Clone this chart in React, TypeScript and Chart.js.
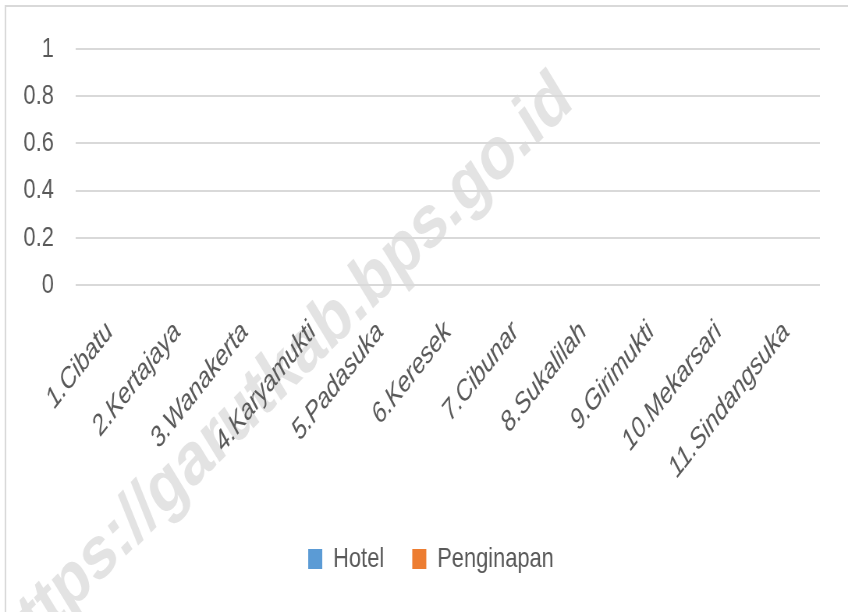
import React, { useEffect, useRef } from "react";
import { Chart, registerables } from "chart.js";
Chart.register(...registerables);

const categories = [
  "1.Cibatu",
  "2.Kertajaya",
  "3.Wanakerta",
  "4.Karyamukti",
  "5.Padasuka",
  "6.Keresek",
  "7.Cibunar",
  "8.Sukalilah",
  "9.Girimukti",
  "10.Mekarsari",
  "11.Sindangsuka",
];
const hotelValues = [0, 0, 0, 0, 0, 0, 0, 0, 0, 0, 0];
const penginapanValues = [0, 0, 0, 0, 0, 0, 0, 0, 0, 0, 0];
const yMin = 0;
const yMax = 1;
const yStep = 0.2;
const watermarkText = "https://garutkab.bps.go.id";

// The reference picture is horizontally compressed (narrow, tall glyphs);
// the chart is drawn on a wider canvas and shown squeezed to 848px.
const VIEW_W = 848;
const VIEW_H = 612;
const SQUEEZE = 0.78;
const CANVAS_W = Math.round(VIEW_W / SQUEEZE);

const FONT = "'Liberation Sans', Arial, sans-serif";

const backgroundPlugin = {
  id: "bgWatermark",
  beforeDraw(chart: any) {
    const ctx = chart.ctx as CanvasRenderingContext2D;
    ctx.save();
    ctx.fillStyle = "#ffffff";
    ctx.fillRect(0, 0, chart.width, chart.height);
    ctx.strokeStyle = "#d9d9d9";
    ctx.lineWidth = 2;
    ctx.strokeRect(7, 6, chart.width + 20, chart.height + 20);
    ctx.translate(737, 106);
    ctx.rotate((-38 * Math.PI) / 180);
    ctx.font = "bold 75px 'Liberation Sans', Arial, sans-serif";
    ctx.fillStyle = "#e3e3e3";
    ctx.textAlign = "right";
    ctx.textBaseline = "alphabetic";
    ctx.fillText(watermarkText, 0, 0);
    ctx.restore();
  },
};

export default function App() {
  const ref = useRef<HTMLCanvasElement | null>(null);
  useEffect(() => {
    document.body.style.margin = "0";
    if (!ref.current) return;
    const chart = new Chart(ref.current, {
      type: "bar",
      data: {
        labels: categories,
        datasets: [
          { label: "Hotel", data: hotelValues, backgroundColor: "#5b9bd5", borderWidth: 0 },
          { label: "Penginapan", data: penginapanValues, backgroundColor: "#ed7d31", borderWidth: 0 },
        ],
      },
      options: {
        animation: false,
        responsive: false,
        devicePixelRatio: 1,
        layout: { padding: { top: 49, left: 18, right: 0, bottom: 29 } },
        scales: {
          x: {
            grid: { display: false, drawTicks: false },
            border: { display: false },
            ticks: {
              color: "#595959",
              font: { family: FONT, size: 29, style: "italic" },
              minRotation: 45,
              maxRotation: 45,
              padding: 30,
              autoSkip: false,
            },
            afterFit(scale: any) {
              scale.height = 224;
            },
          },
          y: {
            min: yMin,
            max: yMax,
            grid: { color: "#d9d9d9", lineWidth: 2, drawTicks: false },
            border: { display: false },
            ticks: {
              stepSize: yStep,
              color: "#595959",
              padding: 28,
              font: { family: FONT, size: 28 },
              callback: (v: any) => String(Number(Number(v).toFixed(1))),
            },
            afterFit(scale: any) {
              scale.width = 79;
            },
          },
          yRight: {
            type: "linear",
            position: "right",
            grid: { display: false, drawTicks: false },
            border: { display: false },
            ticks: { display: false },
            afterFit(scale: any) {
              scale.width = 36;
            },
          },
        },
        plugins: {
          legend: {
            position: "bottom",
            labels: {
              color: "#595959",
              font: { family: FONT, size: 28 },
              boxWidth: 18,
              boxHeight: 20,
              padding: 36,
            },
          },
          tooltip: { enabled: false },
        },
      },
      plugins: [backgroundPlugin],
    });
    return () => chart.destroy();
  }, []);
  return (
    <canvas
      ref={ref}
      width={CANVAS_W}
      height={VIEW_H}
      style={{ display: "block", width: VIEW_W + "px", height: VIEW_H + "px" }}
    />
  );
}
